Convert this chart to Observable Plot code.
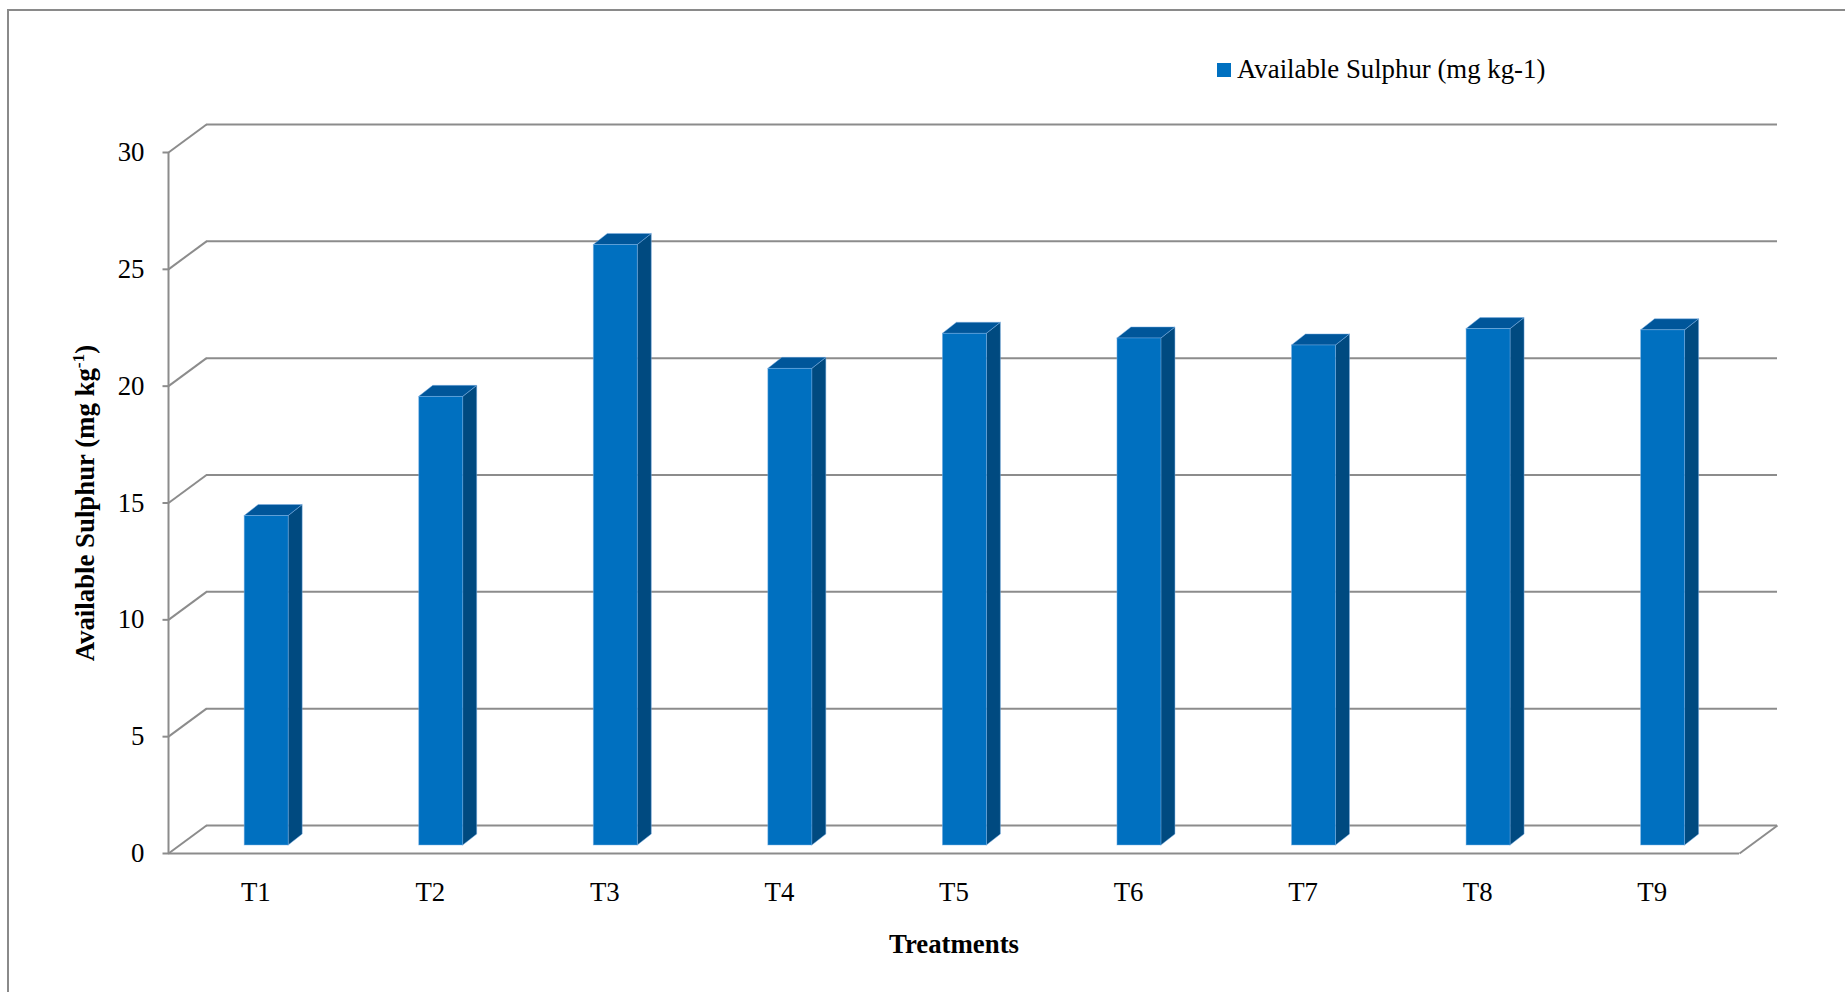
<!DOCTYPE html>
<html>
<head>
<meta charset="utf-8">
<script src="https://cdn.jsdelivr.net/npm/d3@7"></script>
<script src="https://cdn.jsdelivr.net/npm/@observablehq/plot@0.6"></script>
<style>
  html, body { margin: 0; padding: 0; background: #fff; overflow: hidden; }
  #wrap { position: relative; width: 1845px; height: 992px; }
  #frame { position: absolute; left: 7px; top: 9px; width: 1900px; height: 1100px; border: 2px solid #8a8a8a; box-sizing: border-box; pointer-events: none; }
  #legend { position: absolute; left: 1217px; top: 54px; font-family: "Liberation Serif", "Times New Roman", serif; font-size: 26.8px; color: #000; display: flex; align-items: center; white-space: nowrap; }
  #legend .sw { width: 14px; height: 14px; background: #0070C0; margin-right: 6px; }
  #chart { position: absolute; left: 0; top: 0; }
</style>
</head>
<body>
<div id="wrap">
  <div id="chart"></div>
  <div id="frame"></div>
  <div id="legend"><span class="sw"></span><span id="legendText"></span></div>
</div>
<script>
// ---- data ----
const categories = ["T1", "T2", "T3", "T4", "T5", "T6", "T7", "T8", "T9"];
const values = [14.1, 19.2, 25.7, 20.4, 21.9, 21.7, 21.4, 22.1, 22.05];
const yTicks = [0, 5, 10, 15, 20, 25, 30];
const seriesName = "Available Sulphur (mg kg-1)";
const xTitle = "Treatments";
const yTitle = "Available Sulphur (mg kg-1)";

// ---- layout ----
const W = 1845, H = 992;
const mL = 168, mR = 106, mT = 152, mB = 139;
const n = categories.length;
const pxPerCat = (W - mL - mR) / n;
const pxPerVal = (H - mT - mB) / 30;
const WALL_DX = 38, WALL_DY = -28;        // 3D depth of the walls (px)
const BAR_DX = 10.9, BAR_DY = -8;         // position of bar front plane (px)
const BAR_W = 44, SIDE_DX = 14, SIDE_DY = -11; // bar size (px)
const wdx = WALL_DX / pxPerCat, wdy = -WALL_DY / pxPerVal;
const bw = BAR_W / pxPerCat, sx = SIDE_DX / pxPerCat, sy = -SIDE_DY / pxPerVal;

const gridColor = "#8c8c8c";
const frontColor = "#0070C0", sideColor = "#004A80", topColor = "#00569A", edgeColor = "#7fb2e5";
const font = "Liberation Serif, Times New Roman, serif";
const FS = 26.8;

const bars = categories.map((c, i) => ({cat: c, i, v: values[i], xl: i + 0.5 - bw / 2, xr: i + 0.5 + bw / 2}));
const sidePts = bars.flatMap(b => [
  {cat: b.cat, x: b.xr, y1: 0, y2: b.v},
  {cat: b.cat, x: b.xr + sx, y1: sy, y2: b.v + sy}
]);
const topPts = bars.flatMap(b => [
  {cat: b.cat, y: b.v, x1: b.xl, x2: b.xr},
  {cat: b.cat, y: b.v + sy, x1: b.xl + sx, x2: b.xr + sx}
]);

const chart = Plot.plot({
  width: W,
  height: H,
  marginLeft: mL,
  marginRight: mR,
  marginTop: mT,
  marginBottom: mB,
  x: {domain: [0, n], axis: null},
  y: {domain: [0, 30], axis: null},
  style: {fontFamily: font, fontSize: FS + "px", background: "transparent", color: "#000", overflow: "visible"},
  marks: [
    // back wall gridlines
    Plot.ruleY(yTicks, {y: d => d, x1: 0, x2: n, dx: WALL_DX, dy: WALL_DY, stroke: gridColor, strokeWidth: 2}),
    // left wall diagonals
    Plot.link(yTicks, {x1: 0, y1: d => d, x2: wdx, y2: d => d + wdy, stroke: gridColor, strokeWidth: 2}),
    // floor front edge and right diagonal
    Plot.ruleY([0], {y: d => d, x1: 0, x2: n, stroke: gridColor, strokeWidth: 2}),
    Plot.link([0], {x1: n, y1: d => d, x2: n + wdx, y2: d => d + wdy, stroke: gridColor, strokeWidth: 2}),
    // front vertical axis
    Plot.ruleX([0], {x: d => d, y1: 0, y2: 30, stroke: gridColor, strokeWidth: 2}),
    // axis ticks
    Plot.link(yTicks, {x1: 0, x2: -6 / pxPerCat, y1: d => d, y2: d => d, stroke: gridColor, strokeWidth: 2}),
    // bars: side, top, front
    Plot.areaY(sidePts, {x: "x", y1: "y1", y2: "y2", z: "cat", fill: sideColor, stroke: edgeColor, strokeWidth: 0.8, strokeOpacity: 0.6, dx: BAR_DX, dy: BAR_DY}),
    Plot.areaX(topPts, {y: "y", x1: "x1", x2: "x2", z: "cat", fill: topColor, stroke: edgeColor, strokeWidth: 0.8, strokeOpacity: 0.6, dx: BAR_DX, dy: BAR_DY}),
    Plot.rect(bars, {x1: "xl", x2: "xr", y1: 0, y2: "v", fill: frontColor, stroke: edgeColor, strokeWidth: 0.8, strokeOpacity: 0.6, dx: BAR_DX, dy: BAR_DY}),
    // tick labels
    Plot.text(yTicks, {x: 0, y: d => d, text: d => String(d), textAnchor: "end", dx: -24, fontSize: FS, fill: "#000"}),
    Plot.text(categories, {x: (d, i) => i + 0.5, y: 0, text: d => d, dy: 39, fontSize: FS, fill: "#000"}),
    // axis titles
    Plot.text([xTitle], {x: n / 2, y: 0, text: d => d, dy: 91, fontSize: FS, fontWeight: "bold", fill: "#000"}),
    Plot.text([yTitle], {x: 0, y: 15, text: d => d, dx: -83, rotate: -90, fontSize: FS, fontWeight: "bold", fill: "#000"})
  ]
});

document.getElementById("chart").appendChild(chart);
document.getElementById("legendText").textContent = seriesName;

// superscript "-1" in the y-axis title
chart.querySelectorAll("text").forEach(t => {
  if (t.textContent === yTitle) {
    const ns = "http://www.w3.org/2000/svg";
    t.textContent = "";
    t.appendChild(document.createTextNode("Available Sulphur (mg kg"));
    const sup = document.createElementNS(ns, "tspan");
    sup.setAttribute("baseline-shift", "super");
    sup.setAttribute("font-size", "17.5");
    sup.textContent = "-1";
    t.appendChild(sup);
    t.appendChild(document.createTextNode(")"));
  }
});
</script>
</body>
</html>
